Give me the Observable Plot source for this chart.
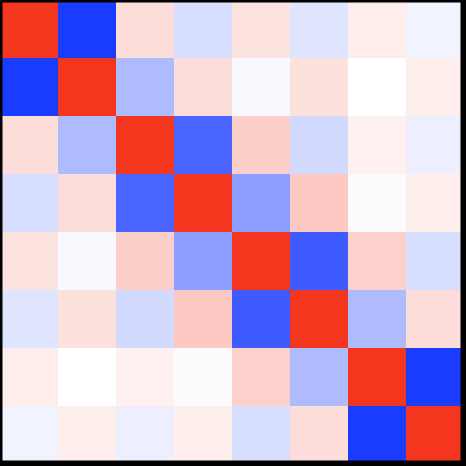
<!DOCTYPE html>
<html>
<head>
<meta charset="utf-8">
<script src="https://cdn.jsdelivr.net/npm/d3@7"></script>
<script src="https://cdn.jsdelivr.net/npm/@observablehq/plot@0.6"></script>
<style>
  html, body { margin: 0; padding: 0; background: #000; }
  svg { display: block; background: #000; }
</style>
</head>
<body>
<div id="chart"></div>
<script>
const variables = ["V1", "V2", "V3", "V4", "V5", "V6", "V7", "V8"];
const row0 = [1.00, -1.00, 0.17, -0.17, 0.14, -0.14, 0.09, -0.06];
const row1 = [-1.00, 1.00, -0.35, 0.17, -0.03, 0.15, 0.00, 0.08];
const row2 = [0.17, -0.35, 1.00, -0.79, 0.24, -0.19, 0.07, -0.08];
const row3 = [-0.17, 0.17, -0.79, 1.00, -0.49, 0.27, -0.015, 0.08];
const row4 = [0.14, -0.03, 0.24, -0.49, 1.00, -0.84, 0.23, -0.17];
const row5 = [-0.14, 0.15, -0.19, 0.27, -0.84, 1.00, -0.35, 0.17];
const row6 = [0.09, 0.00, 0.07, -0.015, 0.23, -0.35, 1.00, -1.00];
const row7 = [-0.06, 0.08, -0.08, 0.08, -0.17, 0.17, -1.00, 1.00];
const rows = [row0, row1, row2, row3, row4, row5, row6, row7];
const colorDomain = [-1, 0, 1];
const colorRange = ["#1a3cff", "#ffffff", "#f4361f"];

const table = [];
rows.forEach((r, i) => r.forEach((v, j) => table.push({row: variables[i], col: variables[j], value: v})));

const chart = Plot.plot({
  width: 466,
  height: 466,
  marginTop: 0, marginRight: 0, marginBottom: 0, marginLeft: 0,
  style: {background: "#000"},
  x: {domain: variables, range: [-1.2, 464.4], padding: 0, axis: null},
  y: {domain: variables, range: [-1.2, 464.4], padding: 0, axis: null},
  color: {type: "linear", domain: colorDomain, range: colorRange, interpolate: "rgb"},
  marks: [
    Plot.cell(table, {x: "col", y: "row", fill: "value", inset: 0, shapeRendering: "crispEdges"}),
    Plot.frame({stroke: "#000", strokeWidth: 4, insetRight: 4, insetBottom: 4})
  ]
});
document.getElementById("chart").append(chart);
</script>
</body>
</html>
